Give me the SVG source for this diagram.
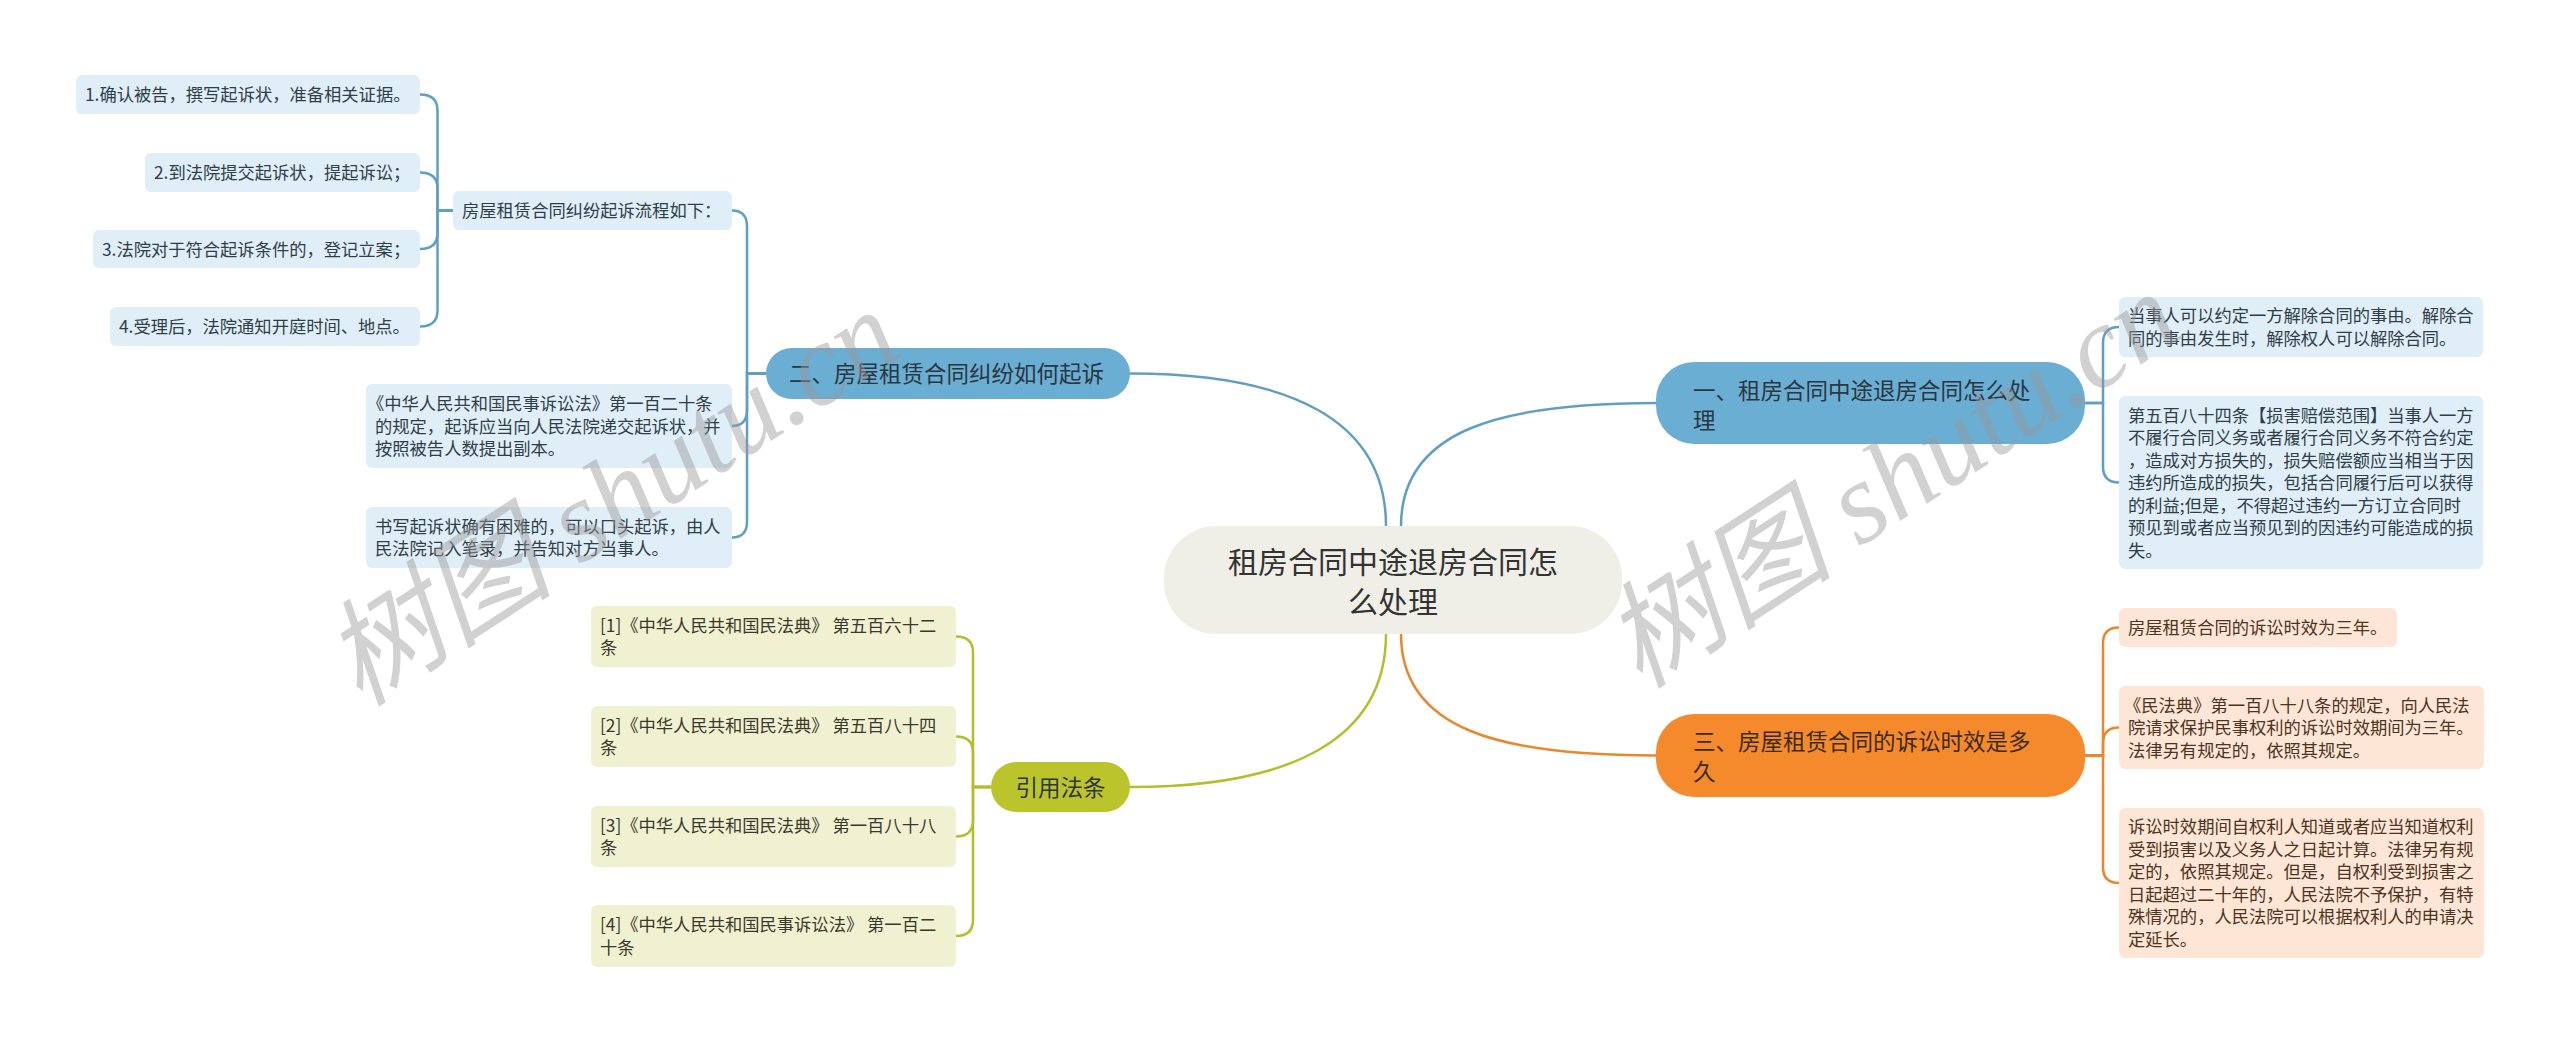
<svg xmlns="http://www.w3.org/2000/svg" width="2560" height="1042" viewBox="0 0 2560 1042">
<style>
  text { font-family: "Noto Sans CJK SC", "Noto Sans", sans-serif; }
  .s { font-size: 17.3px; }
  .m { font-size: 22.5px; fill: #2b3640; }
  .c { font-size: 30px; fill: #333333; }
  .lb { fill: #e0eef7; }
  .lo { fill: #fde6d5; }
  .ly { fill: #f0f1d1; }
  .tb { fill: #2f3e48; }
  .to { fill: #4d3322; }
  .ty { fill: #3a3a2c; }
  .cb { fill: none; stroke: #5f9fc3; stroke-width: 2.5; }
  .co { fill: none; stroke: #e8872c; stroke-width: 2.5; }
  .cy { fill: none; stroke: #b4bd2a; stroke-width: 2.5; }
  .wm { font-family: "Liberation Serif", "Noto Sans CJK SC", serif; font-style: italic; font-size: 116px; fill: #9a9a9a; opacity: 0.45; }
</style>
<rect width="2560" height="1042" fill="#ffffff"/>

<g id="connectors">
  <!-- center to main branches -->
  <path class="cb" stroke-width="3" d="M1401,526 C1401,430 1500,403 1656,403"/>
  <path class="co" stroke-width="3" d="M1401,634 C1401,730 1500,755.5 1656,755.5"/>
  <path class="cb" stroke-width="3" d="M1386,526 C1386,420 1290,373.5 1130,373.5"/>
  <path class="cy" stroke-width="3" d="M1386,634 C1386,740 1290,787 1130,787"/>
  <!-- N1 to right leaves -->
  <path class="cb" d="M2085,403 H2103 V343 Q2103,327 2119,327"/>
  <path class="cb" d="M2085,403 H2103 V466.5 Q2103,482.5 2119,482.5"/>
  <!-- N3 to right leaves -->
  <path class="co" d="M2085,755.5 H2103 V643.5 Q2103,627.5 2119,627.5"/>
  <path class="co" d="M2085,755.5 H2103 V743.5 Q2103,727.5 2119,727.5"/>
  <path class="co" d="M2085,755.5 H2103 V867 Q2103,883 2119,883"/>
  <!-- N2 to left leaves -->
  <path class="cb" d="M766,373.5 H747 V226.5 Q747,210.5 732,210.5"/>
  <path class="cb" d="M766,373.5 H747 V410 Q747,426 732,426"/>
  <path class="cb" d="M766,373.5 H747 V521.5 Q747,537.5 732,537.5"/>
  <!-- P1 to steps -->
  <path class="cb" d="M453,210.5 H437.5 V110.5 Q437.5,94.5 420,94.5"/>
  <path class="cb" d="M453,210.5 H437.5 V188.5 Q437.5,172.5 420,172.5"/>
  <path class="cb" d="M453,210.5 H437.5 V233 Q437.5,249 420,249"/>
  <path class="cb" d="M453,210.5 H437.5 V310.5 Q437.5,326.5 420,326.5"/>
  <!-- N4 to citations -->
  <path class="cy" d="M991,787 H973 V652.5 Q973,636.5 956,636.5"/>
  <path class="cy" d="M991,787 H973 V752.5 Q973,736.5 956,736.5"/>
  <path class="cy" d="M991,787 H973 V820.5 Q973,836.5 956,836.5"/>
  <path class="cy" d="M991,787 H973 V920 Q973,936 956,936"/>
</g>

<g id="center">
  <rect x="1164" y="526" width="458" height="108" rx="52" fill="#efefe7"/>
  <text class="c" text-anchor="middle"><tspan x="1393" y="573.4">租房合同中途退房合同怎</tspan><tspan x="1393" y="613.4">么处理</tspan></text>
</g>

<g id="n1">
  <rect x="1656" y="362" width="429" height="82" rx="38" fill="#6aaed3"/>
  <text class="m"><tspan x="1693" y="398.5">一、租房合同中途退房合同怎么处</tspan><tspan x="1693" y="428.5">理</tspan></text>
</g>

<g id="n2">
  <rect x="766" y="348" width="364" height="51" rx="25.5" fill="#6aaed3"/>
  <text class="m" x="789" y="382">二、房屋租赁合同纠纷如何起诉</text>
</g>

<g id="n3">
  <rect x="1656" y="714" width="429" height="83" rx="38" fill="#f58a2d"/>
  <text class="m" fill="#3a2a1c"><tspan x="1693" y="749.5" fill="#3a2a1c">三、房屋租赁合同的诉讼时效是多</tspan><tspan x="1693" y="779.5" fill="#3a2a1c">久</tspan></text>
</g>

<g id="n4">
  <rect x="991" y="762" width="139" height="50" rx="25" fill="#bcc42c"/>
  <text class="m" x="1060.5" y="795.5" text-anchor="middle" fill="#333">引用法条</text>
</g>

<g id="p1">
  <rect x="453" y="191" width="279" height="39" rx="6" class="lb"/>
  <text class="s tb" x="462" y="217.1">房屋租赁合同纠纷起诉流程如下：</text>
</g>

<g id="l1">
  <rect x="76" y="75" width="344" height="39" rx="6" class="lb"/>
  <text class="s tb" x="85" y="101.1">1.确认被告，撰写起诉状，准备相关证据。</text>
</g>
<g id="l2">
  <rect x="145" y="153" width="275" height="39" rx="6" class="lb"/>
  <text class="s tb" x="154" y="179.1">2.到法院提交起诉状，提起诉讼；</text>
</g>
<g id="l3">
  <rect x="93" y="230" width="327" height="38" rx="6" class="lb"/>
  <text class="s tb" x="102" y="255.6">3.法院对于符合起诉条件的，登记立案；</text>
</g>
<g id="l4">
  <rect x="110" y="307" width="310" height="39" rx="6" class="lb"/>
  <text class="s tb" x="119" y="333.1">4.受理后，法院通知开庭时间、地点。</text>
</g>

<g id="b1">
  <rect x="366" y="384" width="366" height="84" rx="6" class="lb"/>
  <text class="s tb"><tspan x="367" y="410.1">《中华人民共和国民事诉讼法》第一百二十条</tspan><tspan x="375" y="432.6">的规定，起诉应当向人民法院递交起诉状，并</tspan><tspan x="375" y="455.1">按照被告人数提出副本。</tspan></text>
</g>
<g id="b2">
  <rect x="366" y="507" width="366" height="61" rx="6" class="lb"/>
  <text class="s tb"><tspan x="375" y="532.85">书写起诉状确有困难的，可以口头起诉，由人</tspan><tspan x="375" y="555.35">民法院记入笔录，并告知对方当事人。</tspan></text>
</g>

<g id="o1">
  <rect x="591" y="606" width="365" height="61" rx="6" class="ly"/>
  <text class="s ty"><tspan x="600" y="631.85">[1]《中华人民共和国民法典》 第五百六十二</tspan><tspan x="600" y="654.35">条</tspan></text>
</g>
<g id="o2">
  <rect x="591" y="706" width="365" height="61" rx="6" class="ly"/>
  <text class="s ty"><tspan x="600" y="731.85">[2]《中华人民共和国民法典》 第五百八十四</tspan><tspan x="600" y="754.35">条</tspan></text>
</g>
<g id="o3">
  <rect x="591" y="806" width="365" height="61" rx="6" class="ly"/>
  <text class="s ty"><tspan x="600" y="831.85">[3]《中华人民共和国民法典》 第一百八十八</tspan><tspan x="600" y="854.35">条</tspan></text>
</g>
<g id="o4">
  <rect x="591" y="905" width="365" height="62" rx="6" class="ly"/>
  <text class="s ty"><tspan x="600" y="931.35">[4]《中华人民共和国民事诉讼法》 第一百二</tspan><tspan x="600" y="953.85">十条</tspan></text>
</g>

<g id="r1">
  <rect x="2119" y="297" width="364" height="60" rx="6" class="lb"/>
  <text class="s tb"><tspan x="2128" y="322.35">当事人可以约定一方解除合同的事由。解除合</tspan><tspan x="2128" y="344.85">同的事由发生时，解除权人可以解除合同。</tspan></text>
</g>
<g id="r2">
  <rect x="2119" y="396" width="364" height="173" rx="6" class="lb"/>
  <text class="s tb"><tspan x="2128" y="421.6">第五百八十四条【损害赔偿范围】当事人一方</tspan><tspan x="2128" y="444.1">不履行合同义务或者履行合同义务不符合约定</tspan><tspan x="2128" y="466.6">，造成对方损失的，损失赔偿额应当相当于因</tspan><tspan x="2128" y="489.1">违约所造成的损失，包括合同履行后可以获得</tspan><tspan x="2128" y="511.6">的利益;但是，不得超过违约一方订立合同时</tspan><tspan x="2128" y="534.1">预见到或者应当预见到的因违约可能造成的损</tspan><tspan x="2128" y="556.6">失。</tspan></text>
</g>

<g id="y1">
  <rect x="2119" y="608" width="278" height="39" rx="6" class="lo"/>
  <text class="s to" x="2128" y="634.1">房屋租赁合同的诉讼时效为三年。</text>
</g>
<g id="y2">
  <rect x="2119" y="686" width="365" height="83" rx="6" class="lo"/>
  <text class="s to"><tspan x="2124" y="711.6">《民法典》第一百八十八条的规定，向人民法</tspan><tspan x="2128" y="734.1">院请求保护民事权利的诉讼时效期间为三年。</tspan><tspan x="2128" y="756.6">法律另有规定的，依照其规定。</tspan></text>
</g>
<g id="y3">
  <rect x="2119" y="808" width="365" height="150" rx="6" class="lo"/>
  <text class="s to"><tspan x="2128" y="833.35">诉讼时效期间自权利人知道或者应当知道权利</tspan><tspan x="2128" y="855.85">受到损害以及义务人之日起计算。法律另有规</tspan><tspan x="2128" y="878.35">定的，依照其规定。但是，自权利受到损害之</tspan><tspan x="2128" y="900.85">日起超过二十年的，人民法院不予保护，有特</tspan><tspan x="2128" y="923.35">殊情况的，人民法院可以根据权利人的申请决</tspan><tspan x="2128" y="945.85">定延长。</tspan></text>
</g>

<g id="watermark">
  <text class="wm" transform="translate(360,708) rotate(-33)">树图 shutu.cn</text>
  <text class="wm" transform="translate(1640,690) rotate(-33)">树图 shutu.cn</text>
</g>
</svg>
